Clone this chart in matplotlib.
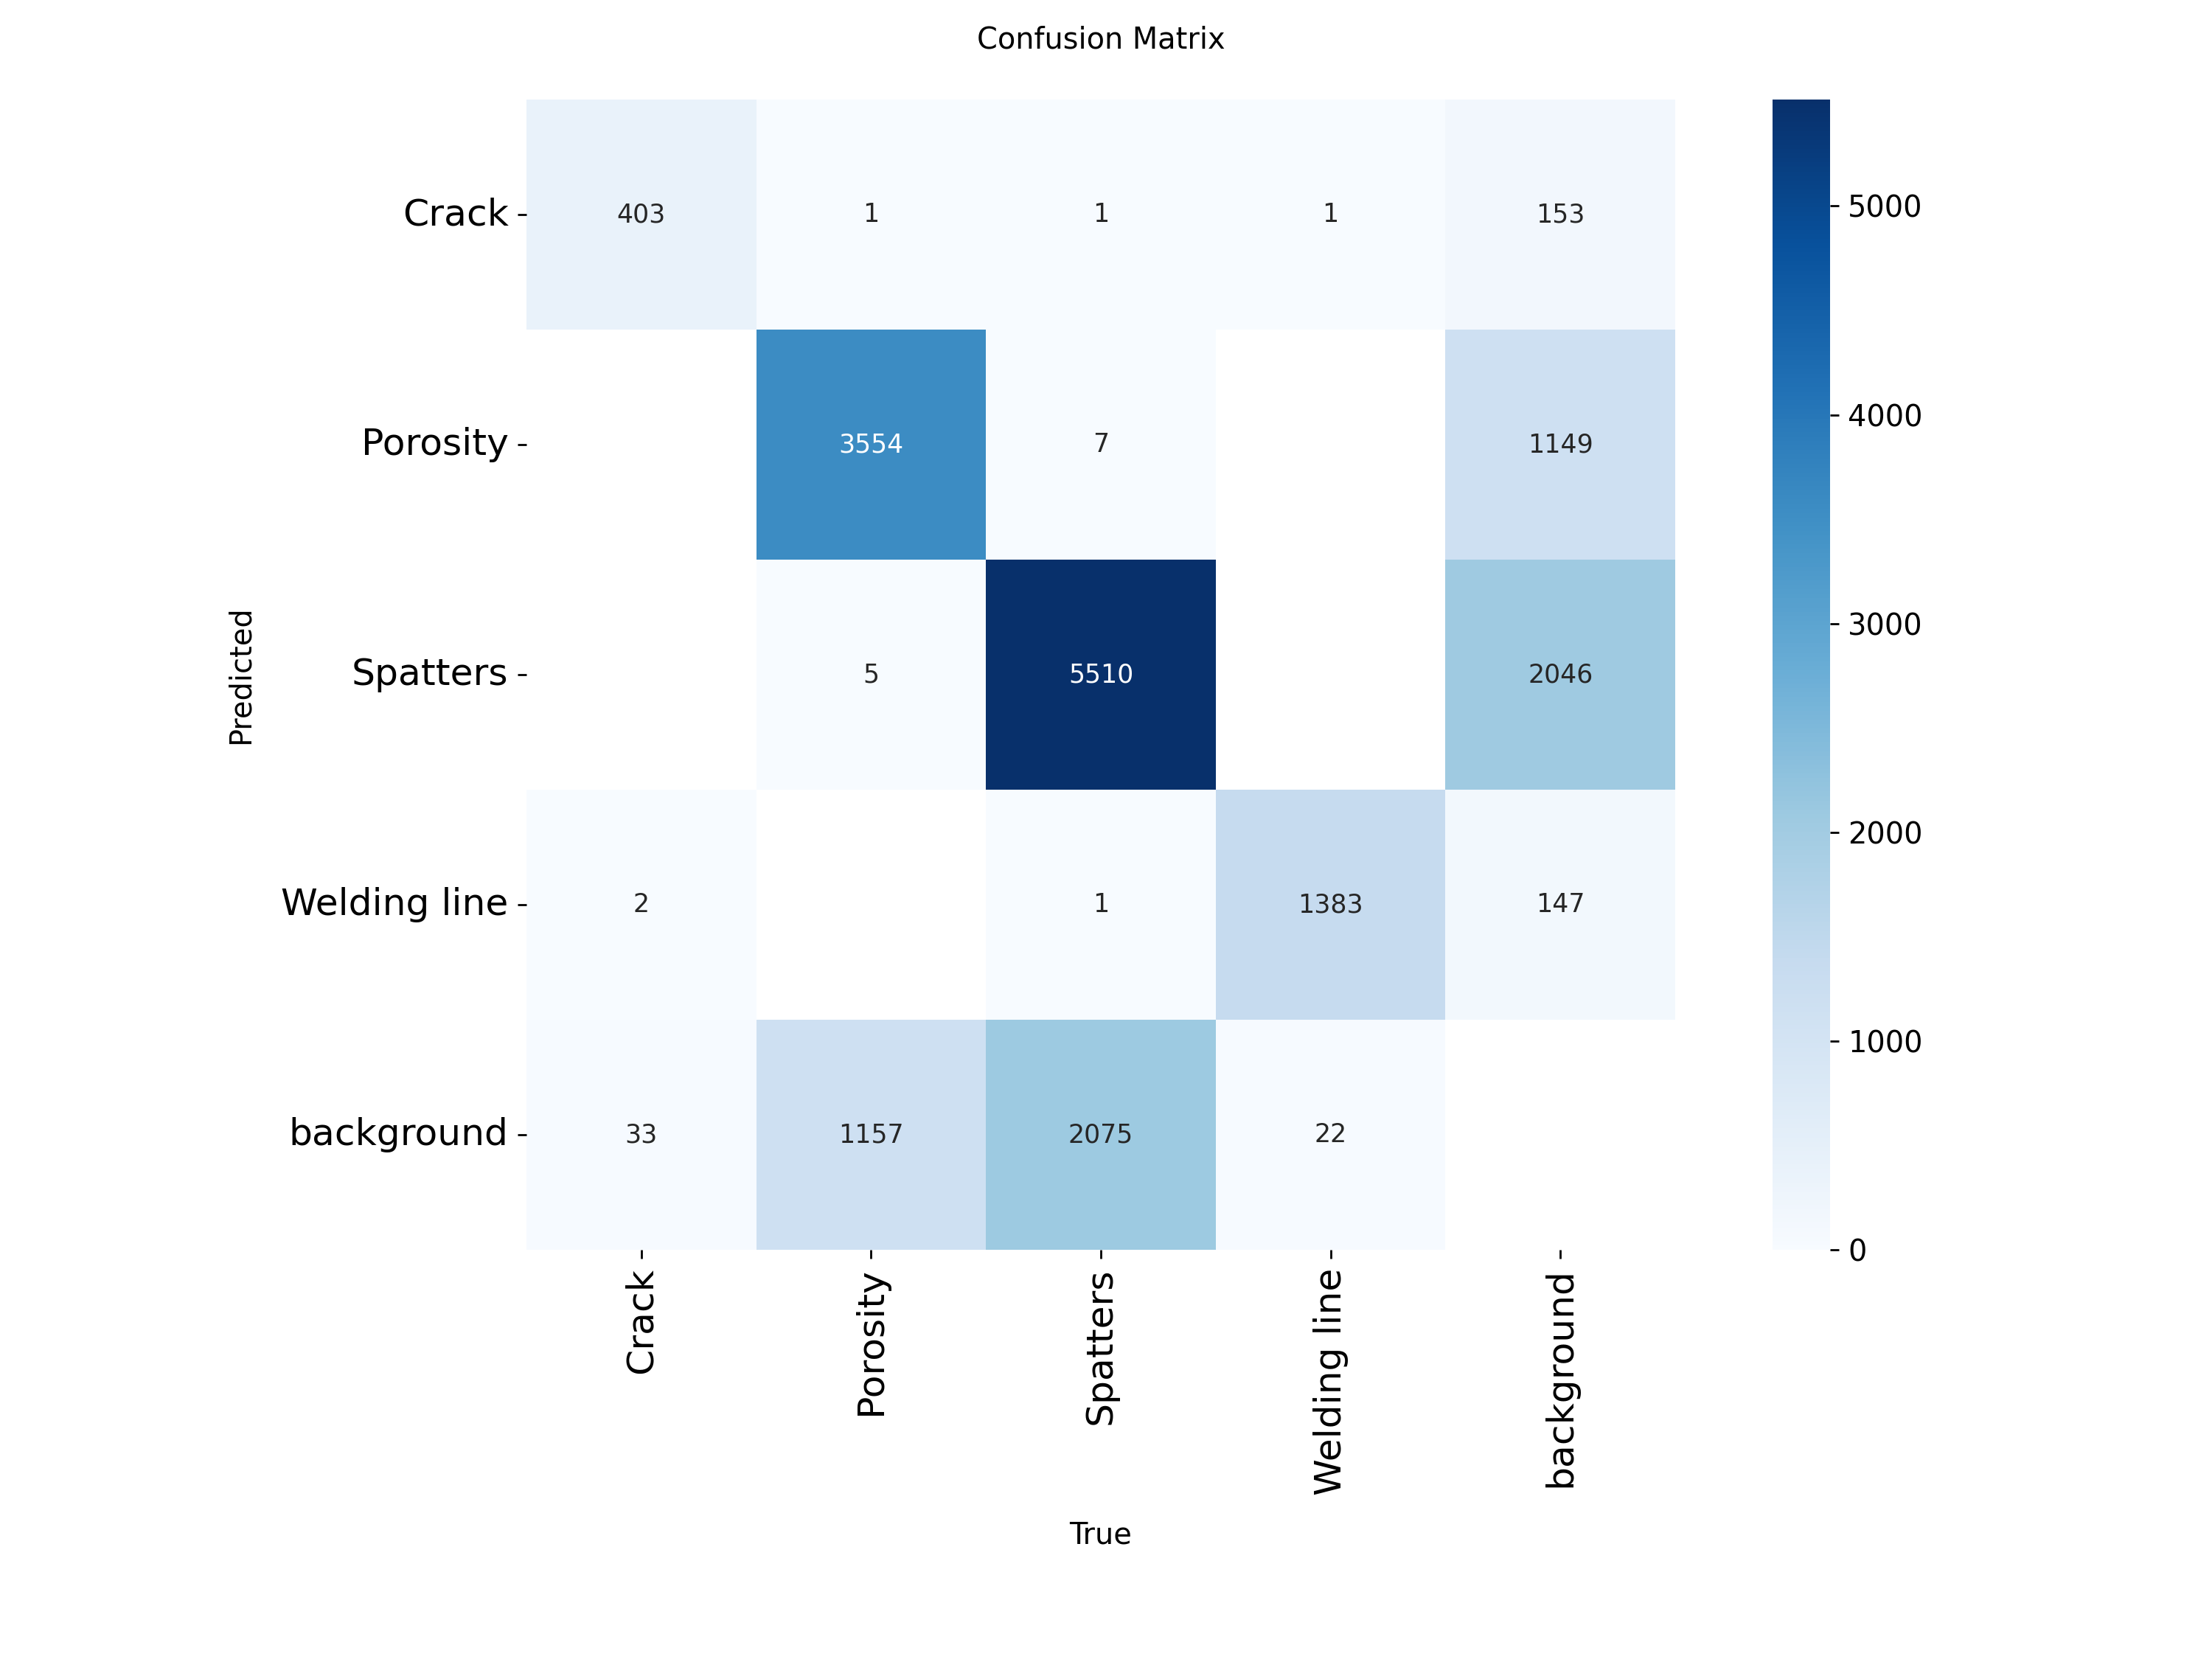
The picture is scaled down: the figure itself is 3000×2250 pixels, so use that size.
import numpy as np
import seaborn as sns
from matplotlib import pyplot as plt

classes = ['Crack', 'Porosity', 'Spatters', 'Welding line', 'background']

# rows = predicted, columns = true
crack_row = [403, 1, 1, 1, 153]
porosity_row = [0, 3554, 7, 0, 1149]
spatters_row = [0, 5, 5510, 0, 2046]
welding_row = [2, 0, 1, 1383, 147]
background_row = [33, 1157, 2075, 22, 0]

matrix = np.array([crack_row, porosity_row, spatters_row, welding_row, background_row], dtype=float)
matrix[matrix < 0.005] = np.nan  # empty cells stay white

fig = plt.figure(figsize=(12, 9), dpi=250)
W, H = 3000, 2250
ax = fig.add_axes([714 / W, 1 - 1695 / H, 1558 / W, 1560 / H])
cax = fig.add_axes([2404 / W, 1 - 1695 / H, 78 / W, 1560 / H])

sns.heatmap(matrix, ax=ax, cbar_ax=cax, annot=True, annot_kws={'size': 10},
            cmap='Blues', fmt='.0f', vmin=0.0,
            xticklabels=classes, yticklabels=classes).set_facecolor((1, 1, 1))

ax.tick_params(axis='both', labelsize=14.5)
plt.setp(ax.get_xticklabels(), rotation=90)
plt.setp(ax.get_yticklabels(), rotation=0, va='center')
cax.tick_params(labelsize=11.5)

ax.set_xlabel('True', fontsize=11.5, labelpad=10)
ax.set_ylabel('Predicted', fontsize=11.5, labelpad=10)
ax.set_title('Confusion Matrix', fontsize=11.5, pad=20)

fig.savefig('out.png', dpi=250)
